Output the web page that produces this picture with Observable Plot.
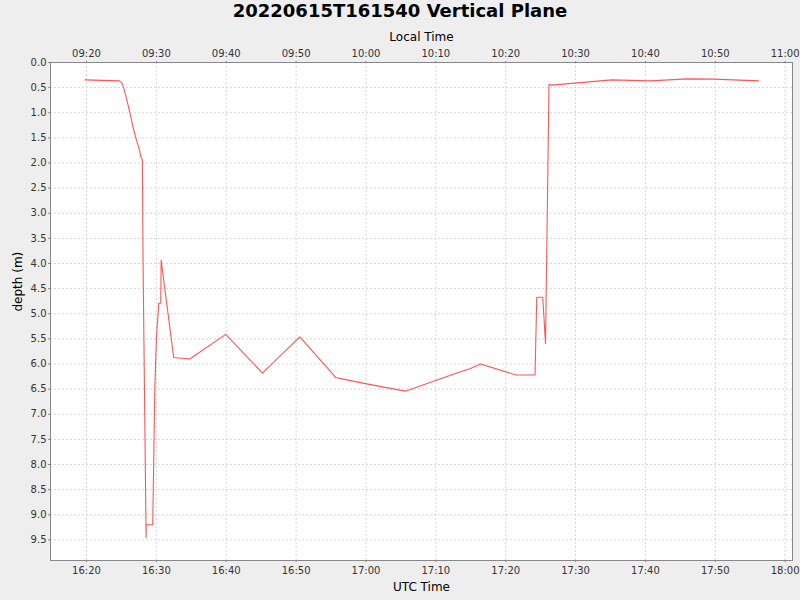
<!DOCTYPE html>
<html>
<head>
<meta charset="utf-8">
<script src="https://cdn.jsdelivr.net/npm/d3@7"></script>
<script src="https://cdn.jsdelivr.net/npm/@observablehq/plot@0.6"></script>
<style>
  html, body { margin: 0; padding: 0; background: #eeeeee; width: 800px; height: 600px; overflow: hidden; }
  #title { height: 24px; line-height: 24px; text-align: center; font: bold 18px "DejaVu Sans", sans-serif; color: #000; }
  #chart svg { display: block; overflow: visible; }
</style>
</head>
<body>
<div id="title">20220615T161540 Vertical Plane</div>
<div id="chart"></div>
<script>
const chartDate = "2022-06-15";
const times = [
  "16:19:48","16:24:43","16:25:06","16:25:26","16:25:44","16:26:12","16:26:41","16:27:10",
  "16:27:29","16:27:49","16:28:00","16:28:06","16:28:32","16:28:33","16:29:29","16:29:47",
  "16:30:01","16:30:21","16:30:38","16:30:41","16:32:29","16:34:47","16:39:56","16:45:11",
  "16:50:32","16:55:42","16:57:06","16:59:54","17:05:39","17:12:48","17:14:58","17:16:24",
  "17:21:30","17:24:12","17:24:27","17:25:18","17:25:42","17:26:12","17:26:36","17:35:12",
  "17:40:42","17:46:00","17:49:48","17:56:12"
];
const depths = [
  0.345, 0.365, 0.41, 0.56, 0.72, 0.99, 1.30, 1.55,
  1.69, 1.89, 1.93, 4.0, 9.45, 9.2, 9.2, 6.47,
  5.47, 4.79, 4.79, 3.93, 5.87, 5.90, 5.41, 6.18,
  5.46, 6.27, 6.31, 6.39, 6.54, 6.19, 6.09, 6.0,
  6.22, 6.22, 4.67, 4.67, 5.59, 0.44, 0.45, 0.345,
  0.365, 0.325, 0.33, 0.365
];
const utcTickLabels = ["16:20","16:30","16:40","16:50","17:00","17:10","17:20","17:30","17:40","17:50","18:00"];
const depthTicks = [0,0.5,1,1.5,2,2.5,3,3.5,4,4.5,5,5.5,6,6.5,7,7.5,8,8.5,9,9.5];
const localOffsetHours = -7;
const xStart = "16:14:51", xEnd = "18:01:03";
const depthMax = 9.91;

const toDate = t => new Date(`${chartDate}T${t.length === 5 ? t + ":00" : t}Z`);
const data = times.map((t, i) => ({time: toDate(t), depth: depths[i]}));
const xTicks = utcTickLabels.map(toDate);
const fmtHM = d3.utcFormat("%H:%M");
const localFmt = d => fmtHM(new Date(+d + localOffsetHours * 3600e3));

const font = "DejaVu Sans, sans-serif";
const chart = Plot.plot({
  width: 800,
  height: 576,
  marginTop: 38,
  marginBottom: 40,
  marginLeft: 50,
  marginRight: 8,
  style: {background: "#eeeeee", fontFamily: font, fontSize: "10px", color: "#333"},
  x: {type: "utc", domain: [toDate(xStart), toDate(xEnd)]},
  y: {domain: [0, depthMax], reverse: true},
  marks: [
    Plot.frame({fill: "white", stroke: "none"}),
    Plot.gridX(xTicks, {stroke: "#d6d6d6", strokeOpacity: 1, strokeDasharray: "2,2"}),
    Plot.gridY(depthTicks, {stroke: "#d6d6d6", strokeOpacity: 1, strokeDasharray: "2,2"}),
    Plot.line(data, {x: "time", y: "depth", stroke: "#ff5555", strokeWidth: 1.1}),
    Plot.frame({stroke: "#888888", strokeWidth: 1}),
    Plot.axisX(xTicks, {anchor: "bottom", tickFormat: fmtHM, tickSize: 2, tickPadding: 4, label: null, stroke: "#888"}),
    Plot.axisX(xTicks, {anchor: "top", tickFormat: localFmt, tickSize: 2, tickPadding: 4, label: null, stroke: "#888"}),
    Plot.axisY(depthTicks, {anchor: "left", tickFormat: d3.format(".1f"), tickSize: 2, tickPadding: 2, label: null, stroke: "#888"}),
    Plot.text(["UTC Time"], {frameAnchor: "bottom", dy: 30, fontSize: 12, fill: "#000"}),
    Plot.text(["Local Time"], {frameAnchor: "top", dy: -30, fontSize: 12, fill: "#000"}),
    Plot.text(["depth (m)"], {frameAnchor: "left", dx: -32, rotate: -90, fontSize: 12, fill: "#000"})
  ]
});
document.getElementById("chart").appendChild(chart);
</script>
</body>
</html>
